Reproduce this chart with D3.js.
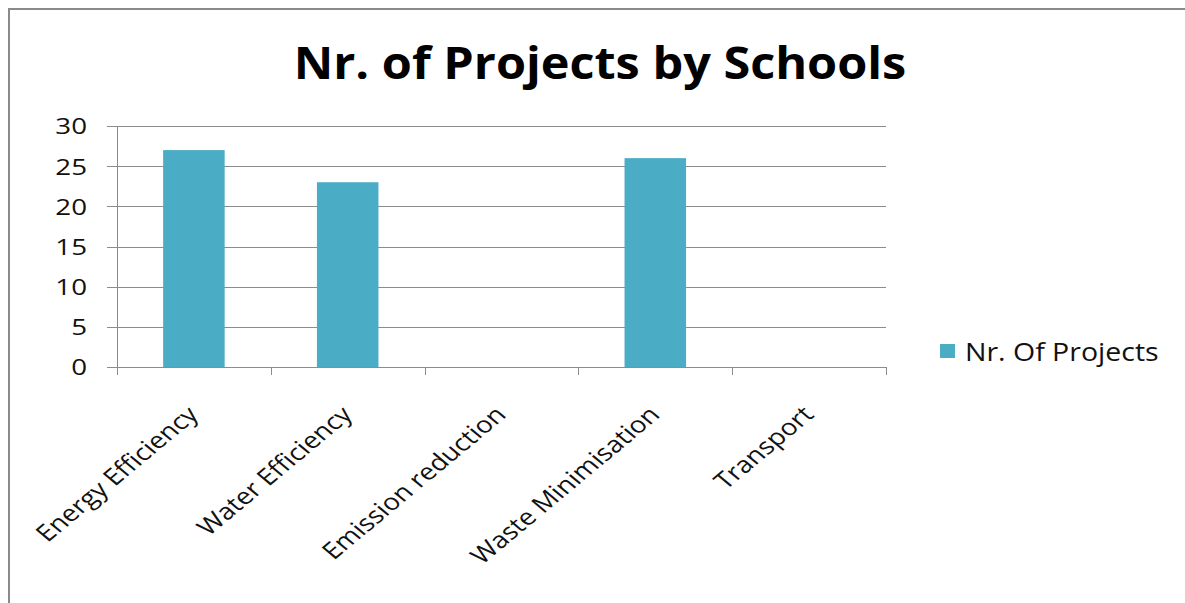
<!DOCTYPE html>
<html>
<head>
<meta charset="utf-8">
<script src="https://cdn.jsdelivr.net/npm/d3@7"></script>
<style>
  body { margin: 0; background: #fff; }
  svg { display: block; font-family: "Open Sans", "Noto Sans", sans-serif; }
</style>
</head>
<body>
<div id="chart"></div>
<script>
var categories = ['Energy Efficiency', 'Water Efficiency', 'Emission reduction', 'Waste Minimisation', 'Transport']
var projects = [27, 23, 0, 26, 0]
var yTicks = [0, 5, 10, 15, 20, 25, 30]
var seriesName = 'Nr. Of Projects'

var margin = { top: 126, left: 117 }
var width = 886 - 117,
    height = 367 - 126

var svg = d3.select('#chart').append('svg')
    .attr('width', 1185)
    .attr('height', 603)

// outer frame
svg.append('rect')
    .attr('x', 9).attr('y', 9)
    .attr('width', 1200).attr('height', 700)
    .attr('fill', 'none')
    .attr('stroke', '#8a8a8a')
    .attr('stroke-width', 2)

// the original picture is a bit stretched sideways, so texts get a scaleX
svg.append('text')
    .text('Nr. of Projects by Schools')
    .attr('transform', 'translate(600,79) scale(1.08,1)')
    .attr('text-anchor', 'middle')
    .attr('font-size', 45)
    .attr('font-weight', 'bold')
    .attr('fill', '#000')

var g = svg.append('g')
    .attr('transform', 'translate(' + margin.left + ',' + margin.top + ')')

var x = d3.scaleBand()
    .domain(categories)
    .range([0, width])
    .paddingInner(0.6)
    .paddingOuter(0.3)

var y = d3.scaleLinear()
    .domain([0, 30])
    .range([height, 0])

// gridlines
g.selectAll('.grid')
  .data(yTicks)
  .enter().append('line')
    .attr('x1', -10)
    .attr('x2', width)
    .attr('y1', function(d) { return Math.round(y(d)) + 0.5 })
    .attr('y2', function(d) { return Math.round(y(d)) + 0.5 })
    .attr('stroke', '#8c8c8c')
    .attr('stroke-width', 1)

// y axis line
g.append('line')
    .attr('x1', 0.5).attr('x2', 0.5)
    .attr('y1', 0).attr('y2', height + 8)
    .attr('stroke', '#8c8c8c')

// category ticks
var step = width / categories.length
g.selectAll('.xtick')
  .data(d3.range(categories.length + 1))
  .enter().append('line')
    .attr('x1', function(i) { return Math.round(i * step) + 0.5 })
    .attr('x2', function(i) { return Math.round(i * step) + 0.5 })
    .attr('y1', height)
    .attr('y2', height + 8)
    .attr('stroke', '#8c8c8c')

g.selectAll('.ylab')
  .data(yTicks)
  .enter().append('text')
    .text(function(d) { return d })
    .attr('transform', function(d) { return 'translate(-30,' + (y(d) + 1) + ') scale(1.32,1)' })
    .attr('dy', '0.35em')
    .attr('text-anchor', 'end')
    .attr('font-size', 21)
    .attr('fill', '#111')

g.selectAll('.bar')
  .data(projects)
  .enter().append('rect')
    .attr('x', function(d, i) { return x(categories[i]) })
    .attr('width', x.bandwidth())
    .attr('y', function(d) { return y(d) })
    .attr('height', function(d) { return height - y(d) })
    .attr('fill', '#4bacc6')

g.selectAll('.xlab')
  .data(categories)
  .enter().append('text')
    .text(function(d) { return d })
    .attr('text-anchor', 'end')
    .attr('font-size', 23)
    .attr('fill', '#111')
    .attr('transform', function(d) {
      var cx = x(d) + x.bandwidth() / 2
      return 'translate(' + (cx + 6) + ',' + (height + 49) + ') scale(1.2,1) rotate(-45)'
    })

// legend
svg.append('rect')
    .attr('x', 940).attr('y', 344)
    .attr('width', 15).attr('height', 14)
    .attr('fill', '#4bacc6')

svg.append('text')
    .text(seriesName)
    .attr('transform', 'translate(965,361) scale(1.14,1)')
    .attr('font-size', 25)
    .attr('fill', '#111')
</script>
</body>
</html>
